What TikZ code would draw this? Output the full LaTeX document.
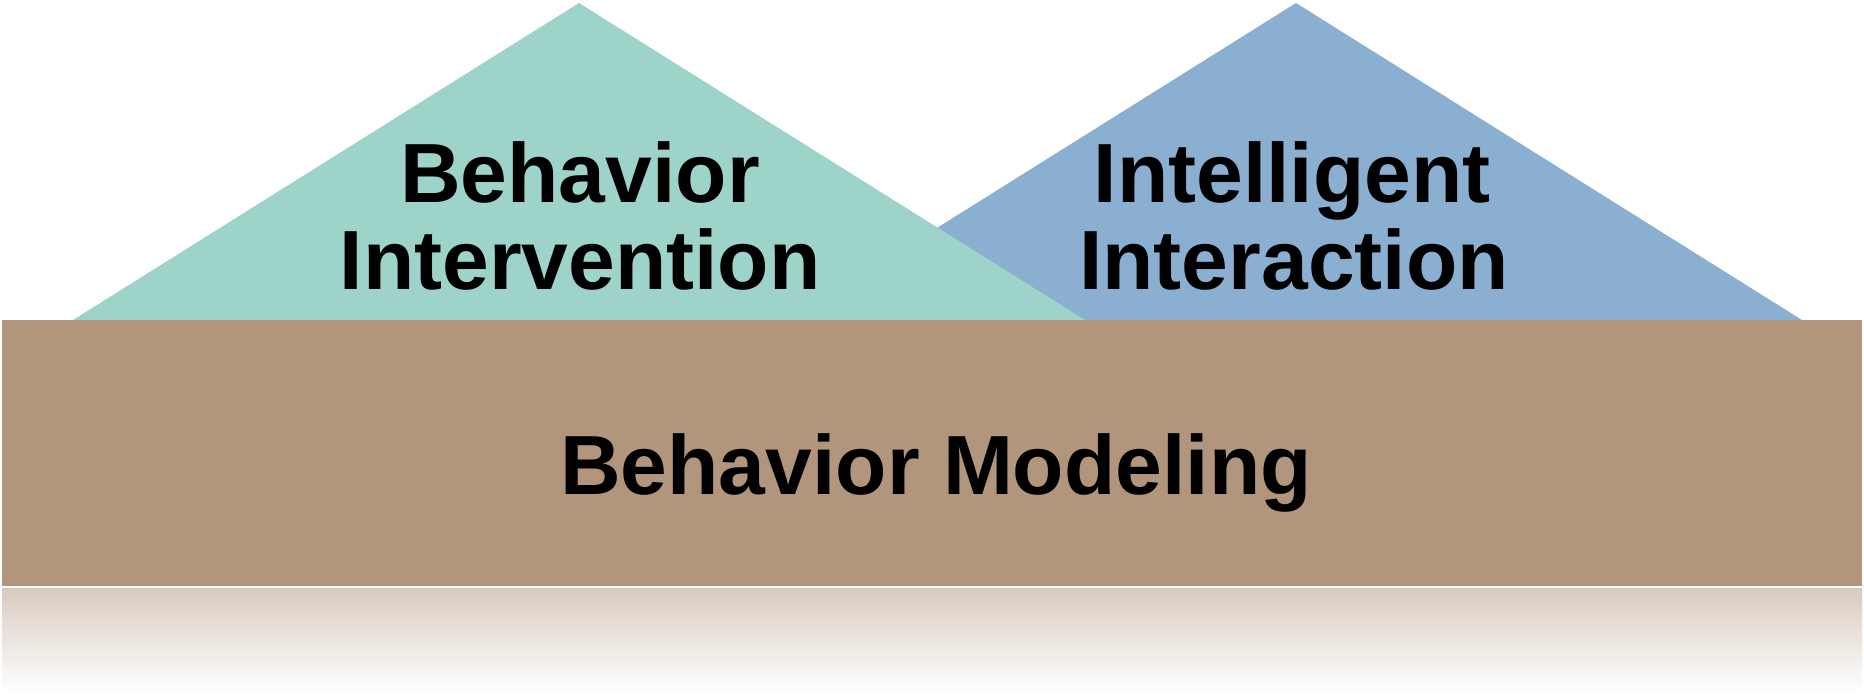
\documentclass[tikz,border=0pt]{standalone}
\usepackage{fontspec}
\setmainfont{Liberation Sans}
\definecolor{greentri}{RGB}{157,211,200}
\definecolor{bluetri}{RGB}{138,175,209}
\definecolor{brownbase}{RGB}{177,150,125}
\begin{document}
\begin{tikzpicture}[x=0.5pt,y=-0.5pt,
  lbl/.style={font=\bfseries\fontsize{42}{44}\selectfont, inner sep=0pt, anchor=base, text=black}]
\useasboundingbox (0,0) rectangle (1864,698);
% triangles
\fill[bluetri] (790,320) -- (1296,3) -- (1802,320) -- cycle;
\fill[greentri] (73,320) -- (579,3) -- (1085,320) -- cycle;
% base block
\fill[brownbase] (2,320) rectangle (1862,586);
% reflection
\shade[top color=brownbase!50, middle color=brownbase!16, bottom color=white] (2,588) rectangle (1862,692);
% labels
\node[lbl] (bi1) at (580,202) {Behavior};
\node[lbl] (bi2) at (580,289) {Intervention};
\node[lbl] (ii1) at (1292,202) {Intelligent};
\node[lbl] (ii2) at (1294,289) {Interaction};
\node[lbl] (bm) at (936,494) {Behavior Modeling};
\end{tikzpicture}
\end{document}
